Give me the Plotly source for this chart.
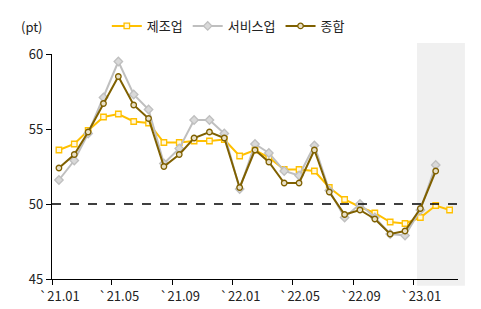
import plotly.graph_objects as go

months = ["2021-01","2021-02","2021-03","2021-04","2021-05","2021-06","2021-07","2021-08","2021-09",
          "2021-10","2021-11","2021-12","2022-01","2022-02","2022-03","2022-04","2022-05","2022-06",
          "2022-07","2022-08","2022-09","2022-10","2022-11","2022-12","2023-01","2023-02","2023-03"]
manufacturing = [53.6, 54.0, 54.9, 55.8, 56.0, 55.5, 55.4, 54.1, 54.1,
                 54.2, 54.2, 54.3, 53.2, 53.6, 53.1, 52.3, 52.3, 52.2,
                 51.1, 50.3, 49.8, 49.4, 48.8, 48.7, 49.1, 49.9, 49.6]
services = [51.6, 52.9, 54.7, 57.1, 59.5, 57.3, 56.3, 52.7, 53.7,
            55.6, 55.6, 54.7, 51.0, 54.0, 53.4, 52.2, 51.9, 53.9,
            50.9, 49.1, 50.0, 49.1, 48.0, 47.9, 49.6, 52.6]
composite = [52.4, 53.3, 54.8, 56.7, 58.5, 56.6, 55.7, 52.5, 53.3,
             54.4, 54.8, 54.4, 51.1, 53.6, 52.8, 51.4, 51.4, 53.6,
             50.8, 49.3, 49.6, 49.0, 48.0, 48.2, 49.7, 52.2]
series_names = ["제조업", "서비스업", "종합"]

def mid(m):
    return m + "-15"

xs = [mid(m) for m in months]
font = "Noto Sans CJK KR"

fig = go.Figure()
fig.add_trace(go.Scatter(x=xs[:len(manufacturing)], y=manufacturing, name=series_names[0], mode="lines+markers",
                         line=dict(color="#FFC000", width=2),
                         marker=dict(symbol="square", size=5.5, color="#FFF8E0", line=dict(color="#FFC000", width=1.3))))
fig.add_trace(go.Scatter(x=xs[:len(services)], y=services, name=series_names[1], mode="lines+markers",
                         line=dict(color="#BFBFBF", width=2),
                         marker=dict(symbol="diamond", size=6.5, color="#D9D9D9", line=dict(color="#BFBFBF", width=1.3))))
fig.add_trace(go.Scatter(x=xs[:len(composite)], y=composite, name=series_names[2], mode="lines+markers",
                         line=dict(color="#7F6000", width=2),
                         marker=dict(symbol="circle", size=5.5, color="#E8E0C8", line=dict(color="#7F6000", width=1.3))))

fig.add_shape(type="rect", xref="paper", yref="paper", x0=0.899, x1=1.017, y0=-0.03, y1=1.049,
              fillcolor="#F0F0F0", line=dict(width=0), layer="below")
fig.add_shape(type="line", xref="paper", yref="y", x0=0, x1=1.01, y0=50, y1=50,
              line=dict(color="black", width=1.5, dash="dash"), layer="above")

fig.add_annotation(text="(pt)", xref="paper", yref="paper", x=-0.05, y=1.12, showarrow=False,
                   font=dict(size=13, color="#222", family=font), xanchor="center", yanchor="middle")

fig.update_layout(
    width=481, height=309,
    margin=dict(l=52, r=23, t=54, b=30, autoexpand=False),
    paper_bgcolor="white", plot_bgcolor="rgba(0,0,0,0)",
    font=dict(family=font, size=13, color="#222"),
    showlegend=True,
    legend=dict(orientation="h", x=0.135, y=0.916, xref="paper", yref="container",
                xanchor="left", yanchor="middle",
                font=dict(size=13, family=font), bgcolor="rgba(0,0,0,0)", itemwidth=30),
    xaxis=dict(type="date", range=["2021-01-01", "2023-04-01"], tick0="2021-01-01", dtick="M4",
               ticklabelmode="period", tickformat="`%y.%m", showgrid=False, zeroline=False,
               showline=True, linecolor="black", linewidth=1.2, ticks="outside", ticklen=5,
               tickcolor="black", tickfont=dict(size=13), automargin=False),
    yaxis=dict(range=[45, 60], tickvals=[45, 50, 55, 60], showgrid=False, zeroline=False,
               showline=True, linecolor="black", linewidth=1.2, ticks="outside", ticklen=5,
               tickcolor="black", tickfont=dict(size=13), automargin=False),
)

fig.write_html("out.html")
